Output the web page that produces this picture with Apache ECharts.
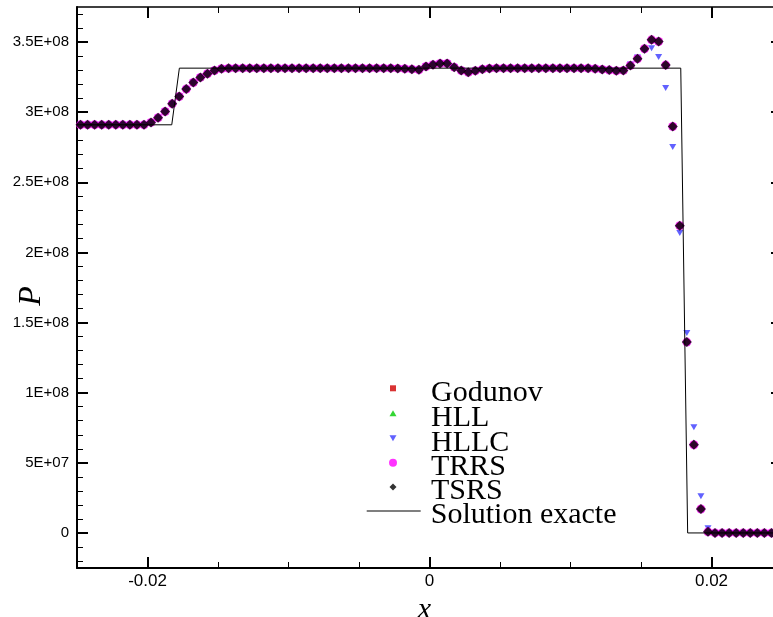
<!DOCTYPE html>
<html>
<head>
<meta charset="utf-8">
<script src="https://cdn.jsdelivr.net/npm/echarts@6/dist/echarts.min.js"></script>
<style>
html,body{margin:0;padding:0;background:#fff;}
#chart{width:773px;height:617px;}
</style>
</head>
<body>
<div id="chart"></div>
<script>
// ---------- data ----------
const xCells = [
-0.02475,-0.02425,-0.02375,-0.02325,-0.02275,-0.02225,-0.02175,-0.02125,-0.02075,-0.02025,
-0.01975,-0.01925,-0.01875,-0.01825,-0.01775,-0.01725,-0.01675,-0.01625,-0.01575,-0.01525,
-0.01475,-0.01425,-0.01375,-0.01325,-0.01275,-0.01225,-0.01175,-0.01125,-0.01075,-0.01025,
-0.00975,-0.00925,-0.00875,-0.00825,-0.00775,-0.00725,-0.00675,-0.00625,-0.00575,-0.00525,
-0.00475,-0.00425,-0.00375,-0.00325,-0.00275,-0.00225,-0.00175,-0.00125,-0.00075,-0.00025,
0.00025,0.00075,0.00125,0.00175,0.00225,0.00275,0.00325,0.00375,0.00425,0.00475,
0.00525,0.00575,0.00625,0.00675,0.00725,0.00775,0.00825,0.00875,0.00925,0.00975,
0.01025,0.01075,0.01125,0.01175,0.01225,0.01275,0.01325,0.01375,0.01425,0.01475,
0.01525,0.01575,0.01625,0.01675,0.01725,0.01775,0.01825,0.01875,0.01925,0.01975,
0.02025,0.02075,0.02125,0.02175,0.02225,0.02275,0.02325,0.02375,0.02425,0.02475
];

const pGodunov = [
2.91e8,2.91e8,2.91e8,2.91e8,2.91e8,2.91e8,2.91e8,2.91e8,2.91e8,2.91e8,
2.927e8,2.96e8,3.005e8,3.06e8,3.112e8,3.165e8,3.212e8,3.248e8,3.274e8,3.297e8,
3.31e8,3.313e8,3.314e8,3.314e8,3.314e8,3.314e8,3.314e8,3.314e8,3.314e8,3.314e8,
3.314e8,3.314e8,3.314e8,3.314e8,3.314e8,3.314e8,3.314e8,3.314e8,3.314e8,3.314e8,
3.314e8,3.314e8,3.314e8,3.314e8,3.314e8,3.312e8,3.31e8,3.307e8,3.302e8,3.326e8,
3.338e8,3.347e8,3.347e8,3.321e8,3.297e8,3.285e8,3.295e8,3.307e8,3.312e8,3.314e8,
3.314e8,3.314e8,3.314e8,3.314e8,3.314e8,3.314e8,3.314e8,3.314e8,3.314e8,3.314e8,
3.314e8,3.314e8,3.313e8,3.31e8,3.305e8,3.3e8,3.295e8,3.298e8,3.333e8,3.381e8,
3.452e8,3.516e8,3.504e8,3.336e8,2.898e8,2.19e8,1.361e8,6.29e7,1.71e7,8e5,
0,0,0,0,0,0,0,0,0,0
];

const pHLL = [
2.91e8,2.91e8,2.91e8,2.91e8,2.91e8,2.91e8,2.91e8,2.91e8,2.91e8,2.91e8,
2.927e8,2.96e8,3.005e8,3.06e8,3.112e8,3.165e8,3.212e8,3.248e8,3.274e8,3.297e8,
3.31e8,3.313e8,3.314e8,3.314e8,3.314e8,3.314e8,3.314e8,3.314e8,3.314e8,3.314e8,
3.314e8,3.314e8,3.314e8,3.314e8,3.314e8,3.314e8,3.314e8,3.314e8,3.314e8,3.314e8,
3.314e8,3.314e8,3.314e8,3.314e8,3.314e8,3.312e8,3.31e8,3.307e8,3.302e8,3.326e8,
3.338e8,3.347e8,3.347e8,3.321e8,3.297e8,3.285e8,3.295e8,3.307e8,3.312e8,3.314e8,
3.314e8,3.314e8,3.314e8,3.314e8,3.314e8,3.314e8,3.314e8,3.314e8,3.314e8,3.314e8,
3.314e8,3.314e8,3.313e8,3.31e8,3.305e8,3.3e8,3.295e8,3.298e8,3.333e8,3.381e8,
3.452e8,3.516e8,3.504e8,3.336e8,2.898e8,2.19e8,1.361e8,6.45e7,1.71e7,8e5,
0,0,0,0,0,0,0,0,0,0
];

const pHLLC = [
2.91e8,2.91e8,2.91e8,2.91e8,2.91e8,2.91e8,2.91e8,2.91e8,2.91e8,2.91e8,
2.927e8,2.96e8,3.005e8,3.06e8,3.112e8,3.165e8,3.212e8,3.248e8,3.274e8,3.297e8,
3.31e8,3.313e8,3.314e8,3.314e8,3.314e8,3.314e8,3.314e8,3.314e8,3.314e8,3.314e8,
3.314e8,3.314e8,3.314e8,3.314e8,3.314e8,3.314e8,3.314e8,3.314e8,3.314e8,3.314e8,
3.314e8,3.314e8,3.314e8,3.314e8,3.314e8,3.312e8,3.31e8,3.307e8,3.302e8,3.326e8,
3.338e8,3.347e8,3.347e8,3.321e8,3.297e8,3.285e8,3.295e8,3.307e8,3.312e8,3.314e8,
3.314e8,3.314e8,3.314e8,3.314e8,3.314e8,3.314e8,3.314e8,3.314e8,3.314e8,3.314e8,
3.314e8,3.314e8,3.313e8,3.31e8,3.305e8,3.3e8,3.295e8,3.298e8,3.34e8,3.39e8,
3.44e8,3.456e8,3.393e8,3.172e8,2.751e8,2.138e8,1.425e8,7.53e7,2.61e7,3.3e6,
0,0,0,0,0,0,0,0,0,0
];

const pTRRS = [
2.91e8,2.91e8,2.91e8,2.91e8,2.91e8,2.91e8,2.91e8,2.91e8,2.91e8,2.91e8,
2.927e8,2.96e8,3.005e8,3.06e8,3.112e8,3.165e8,3.212e8,3.248e8,3.274e8,3.297e8,
3.31e8,3.313e8,3.314e8,3.314e8,3.314e8,3.314e8,3.314e8,3.314e8,3.314e8,3.314e8,
3.314e8,3.314e8,3.314e8,3.314e8,3.314e8,3.314e8,3.314e8,3.314e8,3.314e8,3.314e8,
3.314e8,3.314e8,3.314e8,3.314e8,3.314e8,3.312e8,3.31e8,3.307e8,3.302e8,3.326e8,
3.338e8,3.347e8,3.347e8,3.321e8,3.297e8,3.285e8,3.295e8,3.307e8,3.312e8,3.314e8,
3.314e8,3.314e8,3.314e8,3.314e8,3.314e8,3.314e8,3.314e8,3.314e8,3.314e8,3.314e8,
3.314e8,3.314e8,3.313e8,3.31e8,3.305e8,3.3e8,3.295e8,3.298e8,3.333e8,3.381e8,
3.452e8,3.516e8,3.504e8,3.336e8,2.898e8,2.19e8,1.361e8,6.29e7,1.71e7,8e5,
0,0,0,0,0,0,0,0,0,0
];

const pTSRS = [
2.91e8,2.91e8,2.91e8,2.91e8,2.91e8,2.91e8,2.91e8,2.91e8,2.91e8,2.91e8,
2.927e8,2.96e8,3.005e8,3.06e8,3.112e8,3.165e8,3.212e8,3.248e8,3.274e8,3.297e8,
3.31e8,3.313e8,3.314e8,3.314e8,3.314e8,3.314e8,3.314e8,3.314e8,3.314e8,3.314e8,
3.314e8,3.314e8,3.314e8,3.314e8,3.314e8,3.314e8,3.314e8,3.314e8,3.314e8,3.314e8,
3.314e8,3.314e8,3.314e8,3.314e8,3.314e8,3.312e8,3.31e8,3.307e8,3.302e8,3.326e8,
3.338e8,3.347e8,3.347e8,3.321e8,3.297e8,3.285e8,3.295e8,3.307e8,3.312e8,3.314e8,
3.314e8,3.314e8,3.314e8,3.314e8,3.314e8,3.314e8,3.314e8,3.314e8,3.314e8,3.314e8,
3.314e8,3.314e8,3.313e8,3.31e8,3.305e8,3.3e8,3.295e8,3.298e8,3.333e8,3.381e8,
3.452e8,3.516e8,3.504e8,3.336e8,2.898e8,2.19e8,1.361e8,6.29e7,1.71e7,8e5,
0,0,0,0,0,0,0,0,0,0
];

const exactX = [-0.025, -0.01828, -0.01774, 0.01782, 0.01831, 0.025];
const exactP = [2.91e8, 2.91e8, 3.314e8, 3.314e8, 0, 0];

const xMajorTicks = [-0.02, 0, 0.02];
const xTickLabels = ['-0.02', '0', '0.02'];
const xMinorTicks = [-0.015, -0.01, -0.005, 0.005, 0.01, 0.015];

const yMajorTicks = [0, 5e7, 1e8, 1.5e8, 2e8, 2.5e8, 3e8, 3.5e8];
const yTickLabels = ['0', '5E+07', '1E+08', '1.5E+08', '2E+08', '2.5E+08', '3E+08', '3.5E+08'];
const yMinorTicks = [-2e7, -1e7, 1e7, 2e7, 3e7, 4e7, 6e7, 7e7, 8e7, 9e7,
  1.1e8, 1.2e8, 1.3e8, 1.4e8, 1.6e8, 1.7e8, 1.8e8, 1.9e8, 2.1e8, 2.2e8, 2.3e8, 2.4e8,
  2.6e8, 2.7e8, 2.8e8, 2.9e8, 3.1e8, 3.2e8, 3.3e8, 3.4e8, 3.6e8, 3.7e8];

const seriesNames = ['Godunov', 'HLL', 'HLLC', 'TRRS', 'TSRS', 'Solution exacte'];

// ---------- chart ----------
function pairs(xs, ys) { return xs.map((x, i) => [x, ys[i]]); }

const X_MIN = -0.025, X_MAX = 0.025, Y_MIN = -2.5e7, Y_MAX = 3.75e8;
const black = '#000';

function xAx(pos, major, withLabels, lineW) {
  return {
    type: 'value', position: pos, min: X_MIN, max: X_MAX,
    axisLine: { show: lineW > 0, onZero: false, lineStyle: { color: black, width: lineW } },
    axisTick: { show: true, inside: true, length: major ? 11 : 6,
      lineStyle: { color: black, width: major ? 2 : 1 },
      customValues: major ? xMajorTicks : xMinorTicks },
    axisLabel: withLabels ? {
      show: true, customValues: xMajorTicks, margin: 5,
      fontFamily: 'Liberation Sans', fontSize: 17, color: black,
      formatter: v => { const k = xMajorTicks.indexOf(v); return k >= 0 ? xTickLabels[k] : ''; }
    } : { show: false },
    splitLine: { show: false }
  };
}
function yAx(pos, major, withLabels, lineW) {
  return {
    type: 'value', position: pos, min: Y_MIN, max: Y_MAX,
    axisLine: { show: lineW > 0, onZero: false, lineStyle: { color: black, width: lineW } },
    axisTick: { show: true, inside: true, length: major ? 11 : 6,
      lineStyle: { color: black, width: major ? 2 : 1 },
      customValues: major ? yMajorTicks : yMinorTicks },
    axisLabel: withLabels ? {
      show: true, customValues: yMajorTicks, margin: 8,
      fontFamily: 'Liberation Sans', fontSize: 15, color: black,
      formatter: v => { const k = yMajorTicks.indexOf(v); return k >= 0 ? yTickLabels[k] : ''; }
    } : { show: false },
    splitLine: { show: false }
  };
}

const xAxes = [xAx('bottom', true, true, 2), xAx('bottom', false, false, 0),
               xAx('top', true, false, 1.5), xAx('top', false, false, 0)];
xAxes[0].name = 'x';
xAxes[0].nameLocation = 'middle';
xAxes[0].nameGap = 27;
xAxes[0].nameMoveOverlap = false;
xAxes[0].nameTextStyle = { fontFamily: 'Liberation Serif', fontStyle: 'italic', fontSize: 30, color: black, padding: [0, 10, 0, 0] };

const yAxes = [yAx('left', true, true, 2), yAx('left', false, false, 0),
               yAx('right', true, false, 1.5), yAx('right', false, false, 0)];
yAxes[0].name = 'P';
yAxes[0].nameLocation = 'middle';
yAxes[0].nameRotate = 90;
yAxes[0].nameGap = 29;
yAxes[0].nameMoveOverlap = false;
yAxes[0].nameTextStyle = { fontFamily: 'Liberation Serif', fontStyle: 'italic', fontSize: 32, color: black, padding: [0, 17, 0, 0] };

const LEG_FS = 30;
const LINE_H = 39;
function legText(padLeft) {
  return {
    fontFamily: 'Liberation Serif', fontSize: LEG_FS, color: black,
    rich: {
      s: { width: padLeft, height: LINE_H },
      t: { fontFamily: 'Liberation Serif', fontSize: LEG_FS, color: black, verticalAlign: 'bottom' }
    }
  };
}
function leg(item, iconCenter, w, h, padLeft, left) {
  return {
    data: [item], left: left !== undefined ? left : 393 - w / 2, top: iconCenter - 14, padding: 0,
    itemWidth: w, itemHeight: h, selectedMode: false,
    formatter: '{s|}{t|{name}}',
    textStyle: legText(padLeft)
  };
}

const option = {
  animation: false,
  backgroundColor: '#fff',
  grid: { left: 77, top: 7, width: 705, height: 561, outerBoundsMode: 'none', containLabel: false },
  xAxis: xAxes,
  yAxis: yAxes,
  legend: [
    leg(seriesNames[0], 387.3, 6, 6, 30),
    leg(seriesNames[1], 412.3, 7, 6, 29.5),
    leg({ name: seriesNames[2], icon: 'path://M0,0L10,0L5,8.6Z' }, 437.3, 7, 6, 29.5),
    leg(seriesNames[3], 461.7, 8, 8, 29),
    leg(seriesNames[4], 486, 7, 7, 29.5),
    leg({ name: seriesNames[5], icon: 'rect' }, 510, 54, 1, 5, 366.7)
  ],
  series: [
    { name: seriesNames[0], type: 'scatter', data: pairs(xCells, pGodunov),
      symbol: 'rect', symbolSize: 6, itemStyle: { color: '#d00000' } },
    { name: seriesNames[1], type: 'scatter', data: pairs(xCells, pHLL),
      symbol: 'triangle', symbolSize: [7, 6], itemStyle: { color: '#00cc00' } },
    { name: seriesNames[2], type: 'scatter', data: pairs(xCells, pHLLC),
      symbol: 'triangle', symbolRotate: 180, symbolSize: [7, 6], itemStyle: { color: '#3a3aff' } },
    { name: seriesNames[3], type: 'scatter', data: pairs(xCells, pTRRS),
      symbol: 'circle', symbolSize: 9, itemStyle: { color: '#ff00ff' } },
    { name: seriesNames[4], type: 'scatter', data: pairs(xCells, pTSRS),
      symbol: 'diamond', symbolSize: 10, itemStyle: { color: '#000000' } },
    { name: seriesNames[5], type: 'line', data: pairs(exactX, exactP),
      symbol: 'none', lineStyle: { color: black, width: 1 }, itemStyle: { color: black } }
  ]
};

const chart = echarts.init(document.getElementById('chart'), null, { renderer: 'canvas' });
chart.setOption(option);
</script>
</body>
</html>
